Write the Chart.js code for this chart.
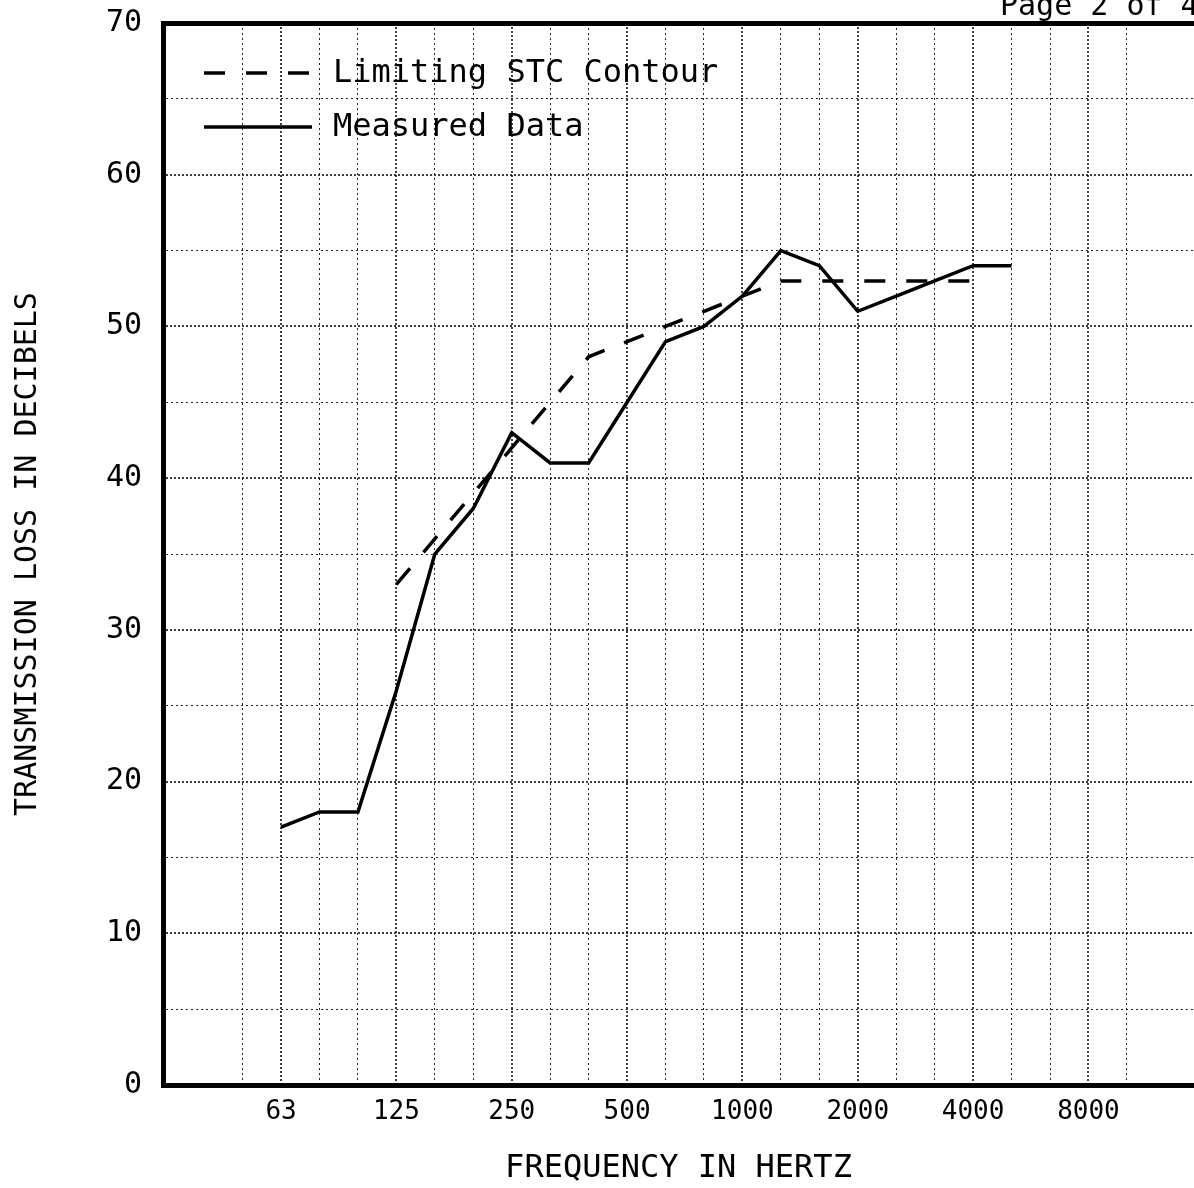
<!DOCTYPE html>
<html>
<head>
<meta charset="utf-8">
<script src="https://cdn.jsdelivr.net/npm/chart.js@4.4.1/dist/chart.umd.min.js"></script>
<style>
    html, body { margin: 0; padding: 0; background: #fff; }
    #chart { display: block; }
</style>
</head>
<body>
<canvas id="chart" width="1194" height="1188"></canvas>
<script>
// -------------------------------------------------------------------------
// Data
// -------------------------------------------------------------------------
// full 1/3-octave band list; index 0 = 63 Hz is the x position of a band
const thirdOctaves = ['63', '80', '100', '125', '160', '200', '250', '315', '400', '500', '630', '800',
    '1000', '1250', '1600', '2000', '2500', '3150', '4000', '5000', '6300', '8000', '10000', '12500'];
const octaveLabels = ['63', '125', '250', '500', '1000', '2000', '4000', '8000'];

const measuredBands = ['63', '80', '100', '125', '160', '200', '250', '315', '400', '500', '630', '800',
    '1000', '1250', '1600', '2000', '2500', '3150', '4000', '5000'];
const measuredTL = [17, 18, 18, 26, 35, 38, 43, 41, 41, 45, 49, 50, 52, 55, 54, 51, 52, 53, 54, 54];

const stcBands = ['125', '160', '200', '250', '315', '400', '500', '630', '800', '1000', '1250', '1600',
    '2000', '2500', '3150', '4000'];
const stcContour = [33, 36, 39, 42, 45, 48, 49, 50, 51, 52, 53, 53, 53, 53, 53, 53];

const yTickLabels = [0, 10, 20, 30, 40, 50, 60, 70];

const FONT = '"DejaVu Sans Mono", "Liberation Mono", monospace';

const toPoints = (bands, values) => values.map((v, i) => ({ x: thirdOctaves.indexOf(bands[i]), y: v }));

// -------------------------------------------------------------------------
// Legend drawn inside the plot + page header
// -------------------------------------------------------------------------
const insideLegend = {
    id: 'insideLegend',
    afterDraw(chart) {
        const { ctx, chartArea } = chart;
        ctx.save();
        ctx.fillStyle = '#000';
        ctx.font = '32px ' + FONT;
        ctx.textBaseline = 'middle';
        chart.data.datasets.forEach((ds, i) => {
            const y = chartArea.top + 50 + i * 54;
            ctx.beginPath();
            ctx.lineWidth = ds.borderWidth;
            ctx.strokeStyle = ds.borderColor;
            ctx.setLineDash(ds.borderDash || []);
            ctx.moveTo(chartArea.left + 41, y);
            ctx.lineTo(chartArea.left + 149, y);
            ctx.stroke();
            ctx.fillText(ds.label, chartArea.left + 170, y + 1);
        });
        ctx.setLineDash([]);
        ctx.textBaseline = 'alphabetic';
        ctx.font = '30px ' + FONT;
        ctx.fillText('Page 2 of 4', 1000, 15);
        ctx.restore();
    }
};

// grid styling helpers
const TRANSPARENT = 'rgba(0,0,0,0)';
const xGridColor = (c) => {
    const v = c.tick ? c.tick.value : NaN;
    if (!Number.isInteger(v) || v < -1) return TRANSPARENT;
    return v % 3 === 0 ? 'rgba(0,0,0,0.75)' : 'rgba(0,0,0,0.85)';
};
const yGridColor = (c) => {
    const v = c.tick ? c.tick.value : NaN;
    if (v === 0 || isNaN(v)) return TRANSPARENT;
    if (v === 70) return '#000';
    return v % 10 === 0 ? 'rgba(0,0,0,0.75)' : 'rgba(0,0,0,0.85)';
};

new Chart(document.getElementById('chart'), {
    type: 'line',
    data: {
        datasets: [{
            label: 'Limiting STC Contour',
            data: toPoints(stcBands, stcContour),
            borderColor: '#000',
            borderWidth: 3.5,
            borderDash: [21, 21],
            pointRadius: 0,
            tension: 0,
            fill: false
        }, {
            label: 'Measured Data',
            data: toPoints(measuredBands, measuredTL),
            borderColor: '#000',
            borderWidth: 3.5,
            pointRadius: 0,
            tension: 0,
            fill: false
        }]
    },
    options: {
        responsive: false,
        animation: false,
        devicePixelRatio: 1,
        layout: { padding: { top: 23, right: 0, left: 0, bottom: 0 } },
        plugins: {
            legend: { display: false },
            tooltip: { enabled: false }
        },
        scales: {
            x: {
                type: 'linear',
                min: -3.07,
                max: 23.745,
                afterFit: (s) => { s.height = 103; s.paddingLeft = 0; s.paddingRight = 0; },
                ticks: {
                    stepSize: 1,
                    autoSkip: false,
                    maxRotation: 0,
                    padding: 12,
                    color: '#000',
                    font: { family: FONT, size: 26 },
                    callback: (v) => {
                        const f = thirdOctaves[v];
                        return Number.isInteger(v) && octaveLabels.includes(f) ? f : '';
                    }
                },
                grid: {
                    drawTicks: false,
                    color: xGridColor,
                    lineWidth: (c) => (c.tick && c.tick.value % 3 === 0 ? 2 : 1)
                },
                border: {
                    color: '#000',
                    width: 5,
                    dash: (c) => (c.tick && c.tick.value % 3 === 0 ? [2, 2] : [2, 3])
                },
                title: {
                    display: true,
                    text: 'FREQUENCY IN HERTZ',
                    color: '#000',
                    font: { family: FONT, size: 32 },
                    padding: { top: 0, bottom: 0 }
                }
            },
            y: {
                min: 0,
                max: 70,
                afterFit: (s) => { s.width = 163; s.paddingTop = 0; s.paddingBottom = 0; },
                ticks: {
                    stepSize: 5,
                    padding: 21,
                    color: '#000',
                    font: { family: FONT, size: 30 },
                    callback: (v) => (yTickLabels.includes(v) ? String(v) : '')
                },
                grid: {
                    drawTicks: false,
                    color: yGridColor,
                    lineWidth: (c) => {
                        const v = c.tick ? c.tick.value : 0;
                        if (v === 70) return 5;
                        return v % 10 === 0 ? 2 : 1;
                    }
                },
                border: {
                    color: '#000',
                    width: 5,
                    dash: (c) => {
                        const v = c.tick ? c.tick.value : 0;
                        if (v === 70) return [];
                        return v % 10 === 0 ? [2, 2] : [2, 3];
                    }
                },
                title: {
                    display: true,
                    text: 'TRANSMISSION LOSS IN DECIBELS',
                    color: '#000',
                    font: { family: FONT, size: 30 },
                    padding: { top: 10, bottom: 0 }
                }
            }
        }
    },
    plugins: [insideLegend]
});
</script>
</body>
</html>
